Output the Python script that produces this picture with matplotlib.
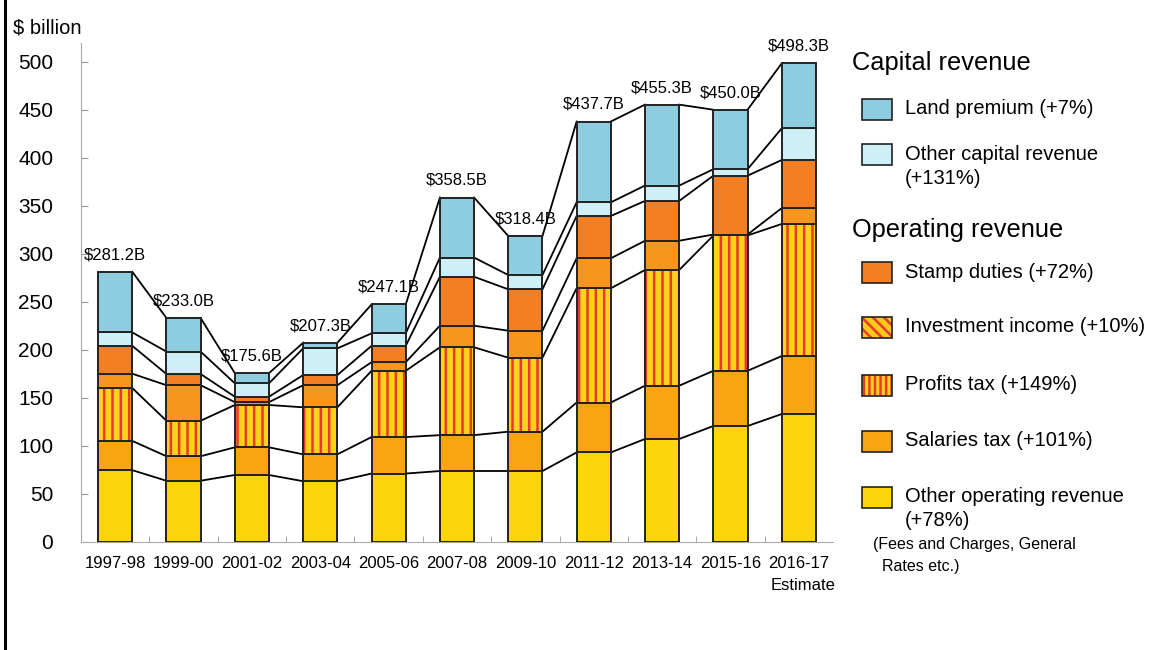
import matplotlib
matplotlib.use("Agg")
import matplotlib.pyplot as plt
from matplotlib.patches import Rectangle
from matplotlib.lines import Line2D
import numpy as np

plt.rcParams['font.family'] = ['Liberation Sans', 'DejaVu Sans']
plt.rcParams['hatch.linewidth'] = 1.8

# Data ($ billion), stacked bottom -> top
years = ['1997-98', '1999-00', '2001-02', '2003-04', '2005-06', '2007-08',
         '2009-10', '2011-12', '2013-14', '2015-16', '2016-17']
other_operating = [74.5, 63.5, 69.5, 63.0, 71.0, 73.6, 73.6, 93.0, 107.0, 120.5, 133.0]
salaries_tax = [30.5, 25.5, 28.8, 28.0, 38.0, 37.4, 41.0, 52.0, 55.5, 57.5, 60.4]
profits_tax = [55.0, 37.0, 44.1, 49.0, 69.0, 91.5, 77.1, 119.0, 120.5, 141.0, 137.6]
investment_income = [15.0, 37.0, 3.0, 23.0, 9.0, 22.5, 28.1, 31.2, 30.5, 1.0, 16.5]
stamp_duties = [29.0, 11.7, 5.6, 10.6, 17.0, 51.0, 43.1, 44.1, 41.5, 61.3, 50.1]
other_capital = [14.0, 23.3, 14.0, 27.8, 13.0, 20.0, 14.9, 14.2, 16.0, 6.7, 33.0]
land_premium = [63.2, 35.0, 10.6, 5.9, 30.1, 62.5, 40.6, 84.2, 84.3, 62.0, 67.7]
totals = [281.2, 233.0, 175.6, 207.3, 247.1, 358.5, 318.4, 437.7, 455.3, 450.0, 498.3]

series = [other_operating, salaries_tax, profits_tax, investment_income,
          stamp_duties, other_capital, land_premium]
colors = ['#FCD40C', '#FBA412', '#FFD21A', '#F8951F', '#F47E22', '#CDEFF5', '#8ECCE0']
EDGE = '#222222'

W, H = 1156, 650
fig = plt.figure(figsize=(W / 100, H / 100), dpi=100)
ax = fig.add_axes([81 / W, 108.3 / H, 752 / W, 498.7 / H])

x = np.arange(len(years))
bw = 0.5
bottom = np.zeros(len(years))
tops = []
for k, vals in enumerate(series):
    vals = np.array(vals)
    if k == 2:
        # profits tax: yellow with red vertical stripes
        ax.bar(x, vals, bw, bottom=bottom, color=colors[k], edgecolor='#E83A2A',
               hatch='||', linewidth=0, zorder=2)
        ax.bar(x, vals, bw, bottom=bottom, facecolor='none', edgecolor=EDGE,
               linewidth=1.4, zorder=3)
    else:
        ax.bar(x, vals, bw, bottom=bottom, color=colors[k], edgecolor=EDGE,
               linewidth=1.4, zorder=3)
    bottom = bottom + vals
    tops.append(bottom.copy())

# connector lines between bars
for level in tops:
    for i in range(len(years) - 1):
        ax.plot([x[i] + bw / 2, x[i + 1] - bw / 2], [level[i], level[i + 1]],
                color='black', lw=1.3, zorder=1)

for i, t in enumerate(totals):
    ax.text(x[i], t + 10, f'${t:.1f}B', ha='center', va='bottom', fontsize=12)

ax.set_xlim(-0.5, len(years) - 0.5)
ax.set_ylim(0, 519.5)
ax.set_yticks(np.arange(0, 501, 50))
ax.tick_params(axis='y', labelsize=15, direction='in', length=5, color='#999999', pad=20)
ax.set_xticks(x)
ax.set_xticklabels(years, fontsize=12)
ax.tick_params(axis='x', length=0, pad=10)
ax.set_xticks(np.arange(0.5, len(years) - 0.5), minor=True)
ax.tick_params(axis='x', which='minor', direction='in', length=4, color='#999999')
for s in ['top', 'right']:
    ax.spines[s].set_visible(False)
for s in ['left', 'bottom']:
    ax.spines[s].set_color('#AAAAAA')

fig.text(836 / W, 1 - 586 / H, 'Estimate', ha='right', va='center', fontsize=12)
fig.text(13 / W, 1 - 28 / H, '$ billion', ha='left', va='center', fontsize=14.5)

# left border
fig.add_artist(Line2D([5 / W, 5 / W], [0, 1], color='black', lw=2.2))

# legend built by hand
def fy(py):
    return 1 - py / H

fig.text(852 / W, fy(63), 'Capital revenue', fontsize=18.3, va='center')
fig.text(852 / W, fy(230), 'Operating revenue', fontsize=18.3, va='center')

legend_items = [
    (6, ['Land premium (+7%)'], 99, None),
    (5, ['Other capital revenue', '(+131%)'], 144, None),
    (4, ['Stamp duties (+72%)'], 262, None),
    (3, ['Investment income (+10%)'], 317, '\\\\\\'),
    (2, ['Profits tax (+149%)'], 375, '|||'),
    (1, ['Salaries tax (+101%)'], 431, None),
    (0, ['Other operating revenue', '(+78%)'], 487, None),
]
for idx, lines, ptop, hatch in legend_items:
    fc = colors[idx]
    if idx == 3:
        fc = '#FFC81A'
    if hatch:
        fig.add_artist(Rectangle((862 / W, fy(ptop + 21)), 30 / W, 21 / H,
                                 transform=fig.transFigure, facecolor=fc,
                                 edgecolor='#E83A2A', hatch=hatch, linewidth=0))
        fig.add_artist(Rectangle((862 / W, fy(ptop + 21)), 30 / W, 21 / H,
                                 transform=fig.transFigure, facecolor='none',
                                 edgecolor=EDGE, linewidth=1.2))
    else:
        fig.add_artist(Rectangle((862 / W, fy(ptop + 21)), 30 / W, 21 / H,
                                 transform=fig.transFigure, facecolor=fc,
                                 edgecolor=EDGE, linewidth=1.2))
    for j, line in enumerate(lines):
        fig.text(905 / W, fy(ptop + 10 + 24 * j), line, fontsize=14.5, va='center')

fig.text(873 / W, fy(545), '(Fees and Charges, General', fontsize=11.5, va='center')
fig.text(882 / W, fy(567), 'Rates etc.)', fontsize=11.5, va='center')

fig.savefig('out.png', dpi=100, facecolor='white')
